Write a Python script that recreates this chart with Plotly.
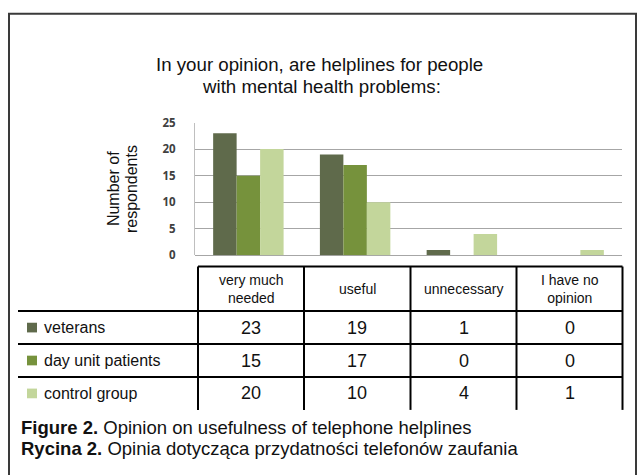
import plotly.graph_objects as go

W, H = 638, 475

categories = ["very much needed", "useful", "unnecessary", "I have no opinion"]
header_labels = ["very much<br>needed", "useful", "unnecessary", "I have no<br>opinion"]
series_names = ["veterans", "day unit patients", "control group"]
veterans = [23, 19, 1, 0]
day_unit_patients = [15, 17, 0, 0]
control_group = [20, 10, 4, 1]
series_values = [veterans, day_unit_patients, control_group]
series_colors = ["#5f6a4b", "#76923c", "#c3d69b"]
y_ticks = [0, 5, 10, 15, 20, 25]

TEXT_FONT = "Liberation Sans, Arial, sans-serif"


def px(x):
    return x / W


def py(y):
    return 1 - y / H


fig = go.Figure()
for name, vals, col in zip(series_names, series_values, series_colors):
    fig.add_trace(go.Bar(
        x=categories, y=vals, name=name, marker=dict(color=col, line=dict(width=0)),
        showlegend=False, hoverinfo="skip",
    ))

shapes = []
annotations = []

# outer frame of the figure panel
shapes.append(dict(type="rect", xref="paper", yref="paper",
                   x0=px(9), x1=px(636), y0=py(490), y1=py(6),
                   line=dict(color="#3a3a3a", width=2), fillcolor="rgba(0,0,0,0)", layer="above"))

# chart title
annotations.append(dict(text="In your opinion, are helplines for people", x=px(320), y=py(58),
                        xref="paper", yref="paper", showarrow=False, xanchor="center", yanchor="middle",
                        font=dict(family=TEXT_FONT, size=18.7, color="#111111")))
annotations.append(dict(text="with mental health problems:", x=px(321), y=py(81),
                        xref="paper", yref="paper", showarrow=False, xanchor="center", yanchor="middle",
                        font=dict(family=TEXT_FONT, size=18.7, color="#111111")))

# y-axis title on two rotated lines
for txt, xc in (("Number of", 113), ("respondents", 131)):
    annotations.append(dict(text=txt, x=px(xc), y=py(187), xref="paper", yref="paper",
                            showarrow=False, textangle=-90, xanchor="center", yanchor="middle",
                            font=dict(family=TEXT_FONT, size=16, color="#111111")))

# data table under the chart
col_edges = [198, 304, 410.5, 516.5, 622.5]
t_top, h_bot = 267, 313
row_edges = [313, 347, 381, 415]
line_style = dict(color="#000000", width=2)

shapes.append(dict(type="line", xref="paper", yref="paper", x0=px(col_edges[0]), x1=px(col_edges[-1]),
                   y0=py(t_top), y1=py(t_top), line=line_style))
for yl in row_edges[:-1]:
    shapes.append(dict(type="line", xref="paper", yref="paper", x0=px(18), x1=px(col_edges[-1]),
                       y0=py(yl), y1=py(yl), line=line_style))
for xl in col_edges:
    shapes.append(dict(type="line", xref="paper", yref="paper", x0=px(xl), x1=px(xl),
                       y0=py(t_top), y1=py(row_edges[-1]), line=line_style))

# header cells
for j, lab in enumerate(header_labels):
    xc = (col_edges[j] + col_edges[j + 1]) / 2
    annotations.append(dict(text=lab, x=px(xc), y=py((t_top + h_bot) / 2), xref="paper", yref="paper",
                            showarrow=False, xanchor="center", yanchor="middle",
                            font=dict(family=TEXT_FONT, size=14, color="#111111")))

# body rows: legend key, series name, values
for i, (name, vals, col) in enumerate(zip(series_names, series_values, series_colors)):
    yc = (row_edges[i] + row_edges[i + 1]) / 2
    shapes.append(dict(type="rect", xref="paper", yref="paper", x0=px(27), x1=px(37),
                       y0=py(yc + 5), y1=py(yc - 5), fillcolor=col, line=dict(width=0)))
    annotations.append(dict(text=name, x=px(42), y=py(yc), xref="paper", yref="paper",
                            showarrow=False, xanchor="left", yanchor="middle",
                            font=dict(family=TEXT_FONT, size=16, color="#111111")))
    for j, v in enumerate(vals):
        xc = (col_edges[j] + col_edges[j + 1]) / 2
        annotations.append(dict(text=str(v), x=px(xc), y=py(yc), xref="paper", yref="paper",
                                showarrow=False, xanchor="center", yanchor="middle",
                                font=dict(family=TEXT_FONT, size=18, color="#111111")))

# figure caption
annotations.append(dict(text="<b>Figure 2.</b> Opinion on usefulness of telephone helplines",
                        x=px(19), y=py(433), xref="paper", yref="paper", showarrow=False,
                        xanchor="left", yanchor="middle",
                        font=dict(family=TEXT_FONT, size=18.5, color="#111111")))
annotations.append(dict(text="<b>Rycina 2.</b> Opinia dotycząca przydatności telefonów zaufania",
                        x=px(19), y=py(455), xref="paper", yref="paper", showarrow=False,
                        xanchor="left", yanchor="middle",
                        font=dict(family=TEXT_FONT, size=18.5, color="#111111")))

fig.update_layout(
    width=W, height=H, margin=dict(l=0, r=0, t=0, b=0),
    paper_bgcolor="white", plot_bgcolor="white",
    barmode="group", bargap=0.34, bargroupgap=0,
    shapes=shapes, annotations=annotations,
    xaxis=dict(domain=[px(195), px(622)], range=[-0.5, 3.5], showticklabels=False,
               showgrid=False, zeroline=False, showline=False, fixedrange=True),
    yaxis=dict(domain=[py(255.3), py(118.3)], range=[0, 25], tickvals=y_ticks,
               showgrid=True, gridcolor="#a6a6a6", gridwidth=1,
               zeroline=True, zerolinecolor="#a6a6a6", zerolinewidth=1,
               showline=True, linecolor="#bfbfbf", linewidth=1,
               ticks="", ticklabelstandoff=16,
               tickfont=dict(family="Open Sans, sans-serif", size=11.5, color="#404040", weight=700),
               fixedrange=True),
)

fig.write_html("out.html")
